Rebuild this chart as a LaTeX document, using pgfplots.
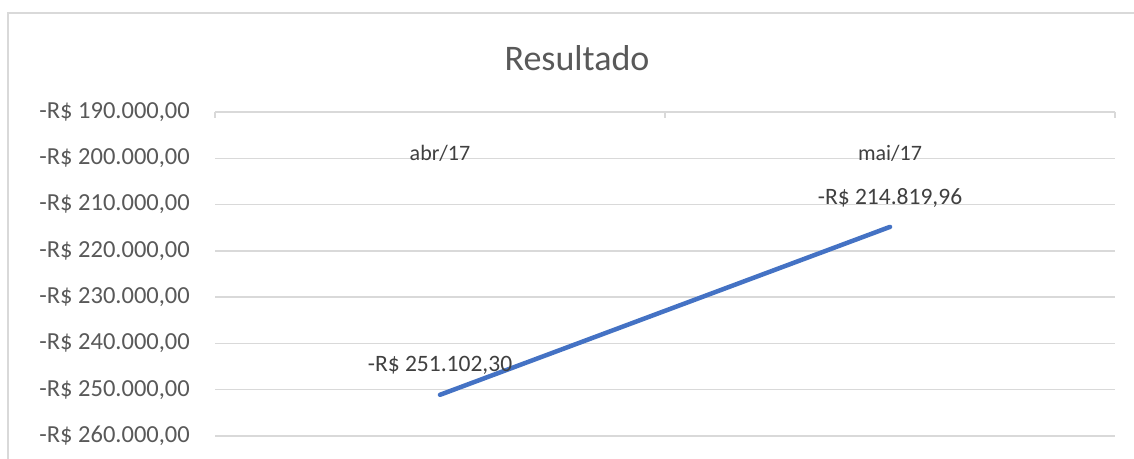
\documentclass[border=0pt]{standalone}
\usepackage{fontspec}
\setmainfont{Carlito}
\usepackage{pgfplots}
\pgfplotsset{compat=1.18}
\definecolor{gridc}{HTML}{D9D9D9}
\definecolor{txt}{HTML}{595959}
\definecolor{dark}{HTML}{404040}
\definecolor{blueline}{HTML}{4472C4}
\begin{document}
\begin{tikzpicture}[x=1bp,y=1bp]
\useasboundingbox (0,0) rectangle (1134,459);
\fill[white] (0,0) rectangle (1134,459);
\draw[gridc, line width=1.5bp] (8,-5) -- (8,446) -- (1140,446);
\node[txt, font=\fontsize{36bp}{40bp}\selectfont] at (577,401) {Resultado};
\begin{axis}[
  at={(215bp,23bp)}, anchor=south west,
  scale only axis, width=900bp, height=324bp,
  xmin=-0.5, xmax=1.5, ymin=-260000, ymax=-190000,
  axis line style={draw=none},
  scaled y ticks=false,
  ytick={-260000,-250000,-240000,-230000,-220000,-210000,-200000,-190000},
  yticklabels={{-R\$ 260.000,00},{-R\$ 250.000,00},{-R\$ 240.000,00},{-R\$ 230.000,00},{-R\$ 220.000,00},{-R\$ 210.000,00},{-R\$ 200.000,00},{-R\$ 190.000,00}},
  ymajorgrids, major grid style={gridc, line width=1.5bp},
  xtick={0,1}, xticklabels={abr/17, mai/17},
  xticklabel pos=right, xtick pos=right,
  minor xtick={-0.5,0.5,1.5},
  major tick length=0pt, minor tick length=6bp,
  minor tick style={gridc, line width=1.5bp},
  xtick align=inside,
  x tick label style={dark, font=\fontsize{22bp}{26bp}\selectfont, anchor=center, yshift=-41bp},
  y tick label style={txt, font=\fontsize{24.5bp}{28bp}\selectfont, anchor=east, inner sep=0pt, xshift=-25bp},
  clip=false,
]
\addplot[blueline, line width=4.5bp, line cap=round, no markers,
  nodes near coords, point meta=explicit symbolic,
  every node near coord/.style={dark, font=\fontsize{23.5bp}{27bp}\selectfont, anchor=center, yshift=29bp}]
  coordinates {(0,-251102.30) [-R\$ 251.102,30] (1,-214819.96) [-R\$ 214.819,96]};
\end{axis}
\end{tikzpicture}
\end{document}
